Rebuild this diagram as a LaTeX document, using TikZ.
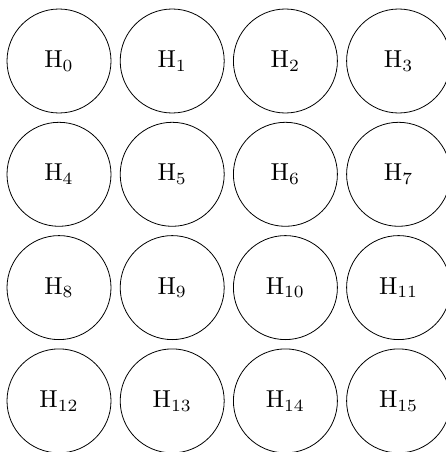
\documentclass[tikz,border=0pt]{standalone}
\begin{document}
\begin{tikzpicture}[x=1pt,y=1pt,
  hnode/.style={draw=black, line width=0.8pt, circle, minimum size=104pt, inner sep=0pt}]
\useasboundingbox (0,0) rectangle (446,-452);
\foreach \r in {0,1,2,3}{
  \foreach \c in {0,1,2,3}{
    \pgfmathtruncatemacro{\idx}{4*\r+\c}
    \node[hnode] (h\idx) at ({59+113.2*\c},{-(61+113.3*\r)}) {\scalebox{2.45}{\normalsize H$_{\idx}$}};
  }
}
\end{tikzpicture}
\end{document}
